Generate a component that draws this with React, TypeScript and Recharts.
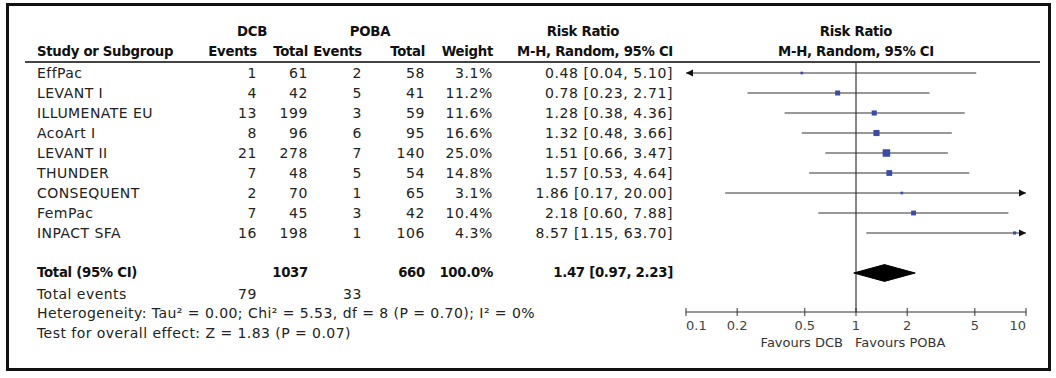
import React from 'react';
import {
    ComposedChart,
    Scatter,
    XAxis,
    YAxis,
    ReferenceLine,
    ReferenceDot,
} from 'recharts';

// Study level data
const studies = ['EffPac', 'LEVANT I', 'ILLUMENATE EU', 'AcoArt I', 'LEVANT II', 'THUNDER', 'CONSEQUENT', 'FemPac', 'INPACT SFA'];
const dcbEvents = [1, 4, 13, 8, 21, 7, 2, 7, 16];
const dcbTotal = [61, 42, 199, 96, 278, 48, 70, 45, 198];
const pobaEvents = [2, 5, 3, 6, 7, 5, 1, 3, 1];
const pobaTotal = [58, 41, 59, 95, 140, 54, 65, 42, 106];
const weights = [3.1, 11.2, 11.6, 16.6, 25.0, 14.8, 3.1, 10.4, 4.3];
const riskRatio = [0.48, 0.78, 1.28, 1.32, 1.51, 1.57, 1.86, 2.18, 8.57];
const ciLow = [0.04, 0.23, 0.38, 0.48, 0.66, 0.53, 0.17, 0.6, 1.15];
const ciHigh = [5.1, 2.71, 4.36, 3.66, 3.47, 4.64, 20.0, 7.88, 63.7];

// Pooled result
const totalDcb = 1037;
const totalPoba = 660;
const totalEventsDcb = 79;
const totalEventsPoba = 33;
const pooledRR = 1.47;
const pooledLow = 0.97;
const pooledHigh = 2.23;

const axisTicks = [0.1, 0.2, 0.5, 1, 2, 5, 10];
const AXIS_MIN = 0.1;
const AXIS_MAX = 10;

// row index -> y value (row centres)
const TOTAL_ROW = 10;
const Y_MAX = 12.45;
const rowValue = (i: number) => i + 0.5;

const W = 1056;
const H = 378;
const ROW_TOP = 63;
const ROW_H = 20;
const rowPx = (i: number) => ROW_TOP + ROW_H * rowValue(i);

const BLUE = '#3c4ca6';
const INK = '#222';
const FONT = '"DejaVu Sans", Verdana, sans-serif';

const fmt = (v: number) => v.toFixed(2);
const ciText = (r: number, lo: number, hi: number) => `${fmt(r)} [${fmt(lo)}, ${fmt(hi)}]`;

const markerData = studies.map((name, i) => ({
    name,
    x: riskRatio[i],
    y: rowValue(i),
    weight: weights[i],
}));

const diamondHalf = 0.42;
const diamondData = [
    { x: pooledLow, y: rowValue(TOTAL_ROW) },
    { x: pooledRR, y: rowValue(TOTAL_ROW) - diamondHalf },
    { x: pooledHigh, y: rowValue(TOTAL_ROW) },
    { x: pooledRR, y: rowValue(TOTAL_ROW) + diamondHalf },
];

// column right edges for the table
const COL = {
    name: 37,
    dcbEv: 257,
    dcbTot: 308,
    pobaEv: 362,
    pobaTot: 425,
    weight: 493,
    rr: 673,
    plot: 856,
};

const T: React.FC<{
    x: number;
    y: number;
    align?: 'start' | 'end' | 'middle';
    bold?: boolean;
    num?: boolean;
    size?: number;
    color?: string;
    children: React.ReactNode;
}> = ({ x, y, align = 'start', bold, num, size, color, children }) => {
    const style: React.CSSProperties = {
        position: 'absolute',
        top: y - 10,
        height: 20,
        lineHeight: '20px',
        whiteSpace: 'nowrap',
        fontFamily: FONT,
        fontSize: size ?? (bold ? 13.3 : 14),
        fontWeight: bold ? 'bold' : 'normal',
        letterSpacing: size ? 0 : bold ? -0.3 : num ? 0.6 : 0.45,
        color: color ?? (bold ? '#111' : INK),
    };
    if (align === 'end') {
        style.left = x - 400;
        style.width = 400;
        style.textAlign = 'right';
    } else if (align === 'middle') {
        style.left = x - 200;
        style.width = 400;
        style.textAlign = 'center';
    } else {
        style.left = x;
    }
    return <div style={style}>{children}</div>;
};

const AxisTick = (props: any) => {
    const { x, y, payload, index } = props;
    const anchor = index === 0 ? 'start' : index === axisTicks.length - 1 ? 'end' : 'middle';
    return (
        <g>
            <line x1={x} x2={x} y1={y - 4} y2={y + 4} stroke="#333" strokeWidth={1} />
            <text
                x={x}
                y={y + 13}
                textAnchor={anchor}
                dominantBaseline="central"
                fontFamily={FONT}
                fontSize={13}
                fill="#444"
            >
                {payload.value}
            </text>
        </g>
    );
};

const Square = (props: any) => {
    const { cx, cy, payload } = props;
    const s = 1.5 * Math.sqrt(payload.weight);
    return <rect x={cx - s / 2} y={cy - s / 2} width={s} height={s} fill={BLUE} />;
};

const ArrowLeft = (props: any) => {
    const { cx, cy } = props;
    return <polygon points={`${cx},${cy} ${cx + 7},${cy - 3.5} ${cx + 7},${cy + 3.5}`} fill="#111" />;
};

const ArrowRight = (props: any) => {
    const { cx, cy } = props;
    return <polygon points={`${cx},${cy} ${cx - 7},${cy - 3.5} ${cx - 7},${cy + 3.5}`} fill="#111" />;
};

const ForestPlot = () => (
    <ComposedChart
        width={W}
        height={H}
        margin={{ top: ROW_TOP, right: 30, left: 686, bottom: 46 }}
        style={{ position: 'absolute', left: 0, top: 0 }}
    >
        <XAxis
            type="number"
            dataKey="x"
            scale="log"
            domain={[AXIS_MIN, AXIS_MAX]}
            allowDataOverflow
            ticks={axisTicks}
            interval={0}
            height={20}
            tickSize={0}
            tickMargin={0}
            tickLine={false}
            axisLine={{ stroke: '#333', strokeWidth: 1 }}
            tick={<AxisTick />}
        />
        <YAxis type="number" dataKey="y" domain={[0, Y_MAX]} reversed hide />
        <ReferenceLine x={1} stroke="#111" strokeWidth={1} />
        {studies.map((name, i) => (
            <ReferenceLine
                key={`ci-${name}`}
                segment={[
                    { x: Math.max(ciLow[i], AXIS_MIN), y: rowValue(i) },
                    { x: Math.min(ciHigh[i], AXIS_MAX), y: rowValue(i) },
                ]}
                stroke="#333"
                strokeWidth={1}
            />
        ))}
        {studies.map((name, i) =>
            ciLow[i] < AXIS_MIN ? (
                <ReferenceDot key={`al-${name}`} x={AXIS_MIN} y={rowValue(i)} shape={<ArrowLeft />} />
            ) : null
        )}
        {studies.map((name, i) =>
            ciHigh[i] > AXIS_MAX ? (
                <ReferenceDot key={`ar-${name}`} x={AXIS_MAX} y={rowValue(i)} shape={<ArrowRight />} />
            ) : null
        )}
        <Scatter data={markerData} shape={<Square />} isAnimationActive={false} />
        <Scatter
            data={diamondData}
            shape={() => <g />}
            line={(p: any) => (
                <polygon points={p.points.map((q: any) => `${q.x},${q.y}`).join(' ')} fill="#000" stroke="#000" />
            )}
            isAnimationActive={false}
        />
    </ComposedChart>
);

export default function App() {
    const hdr1 = 32;
    const hdr2 = 52;
    const totalY = rowPx(TOTAL_ROW);
    return (
        <div style={{ position: 'absolute', left: 0, top: 0, width: W, height: H, background: '#fff', overflow: 'hidden' }}>
            <div
                style={{
                    position: 'absolute',
                    left: 6,
                    top: 3,
                    width: 1045,
                    height: 368,
                    border: '3px solid #111',
                    boxSizing: 'border-box',
                }}
            />
            <ForestPlot />
            <div style={{ position: 'absolute', left: 25, top: 61, width: 1015, height: 2, background: '#444' }} />

            {/* headers */}
            <T x={252} y={hdr1} align="middle" bold>DCB</T>
            <T x={370} y={hdr1} align="middle" bold>POBA</T>
            <T x={583} y={hdr1} align="middle" bold>Risk Ratio</T>
            <T x={COL.plot} y={hdr1} align="middle" bold>Risk Ratio</T>
            <T x={COL.name} y={hdr2} bold>Study or Subgroup</T>
            <T x={COL.dcbEv} y={hdr2} align="end" bold>Events</T>
            <T x={COL.dcbTot} y={hdr2} align="end" bold>Total</T>
            <T x={COL.pobaEv} y={hdr2} align="end" bold>Events</T>
            <T x={COL.pobaTot} y={hdr2} align="end" bold>Total</T>
            <T x={COL.weight} y={hdr2} align="end" bold>Weight</T>
            <T x={COL.rr} y={hdr2} align="end" bold>M-H, Random, 95% CI</T>
            <T x={COL.plot} y={hdr2} align="middle" bold>M-H, Random, 95% CI</T>

            {/* study rows */}
            {studies.map((name, i) => {
                const y = rowPx(i);
                return (
                    <React.Fragment key={name}>
                        <T x={COL.name} y={y}>{name}</T>
                        <T x={COL.dcbEv} y={y} align="end" num>{dcbEvents[i]}</T>
                        <T x={COL.dcbTot} y={y} align="end" num>{dcbTotal[i]}</T>
                        <T x={COL.pobaEv} y={y} align="end" num>{pobaEvents[i]}</T>
                        <T x={COL.pobaTot} y={y} align="end" num>{pobaTotal[i]}</T>
                        <T x={COL.weight} y={y} align="end" num>{weights[i].toFixed(1)}%</T>
                        <T x={COL.rr} y={y} align="end" num>{ciText(riskRatio[i], ciLow[i], ciHigh[i])}</T>
                    </React.Fragment>
                );
            })}

            {/* totals */}
            <T x={COL.name} y={totalY} bold>Total (95% CI)</T>
            <T x={COL.dcbTot} y={totalY} align="end" bold>{totalDcb}</T>
            <T x={COL.pobaTot} y={totalY} align="end" bold>{totalPoba}</T>
            <T x={COL.weight} y={totalY} align="end" bold>100.0%</T>
            <T x={COL.rr} y={totalY} align="end" bold>{ciText(pooledRR, pooledLow, pooledHigh)}</T>

            <T x={COL.name} y={294}>Total events</T>
            <T x={COL.dcbEv} y={294} align="end" num>{totalEventsDcb}</T>
            <T x={COL.pobaEv} y={294} align="end" num>{totalEventsPoba}</T>
            <T x={COL.name} y={313}>Heterogeneity: Tau² = 0.00; Chi² = 5.53, df = 8 (P = 0.70); I² = 0%</T>
            <T x={COL.name} y={333}>Test for overall effect: Z = 1.83 (P = 0.07)</T>

            <T x={843} y={343} align="end" size={13} color="#333">Favours DCB</T>
            <T x={855} y={343} size={13} color="#333">Favours POBA</T>
        </div>
    );
}
